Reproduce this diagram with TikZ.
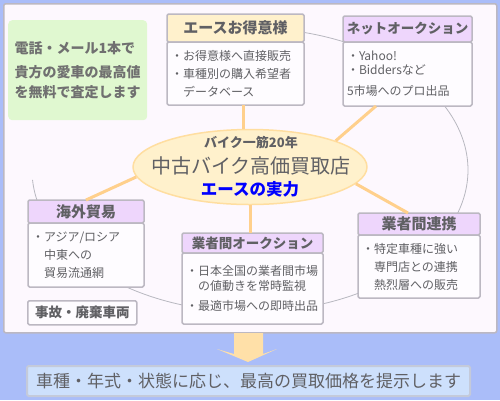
\documentclass[tikz,border=0pt]{standalone}
\usepackage{fontspec}
\setmainfont{Noto Sans CJK JP}
\usetikzlibrary{positioning,shapes.geometric}

\definecolor{skyback}{RGB}{170,189,249}
\definecolor{panelbg}{RGB}{253,248,254}
\definecolor{framegray}{RGB}{188,184,194}
\definecolor{inkgray}{RGB}{96,96,100}
\definecolor{memogray}{RGB}{112,112,112}
\definecolor{headpurple}{RGB}{238,214,252}
\definecolor{headyellow}{RGB}{255,241,204}
\definecolor{boxwhite}{RGB}{254,252,255}
\definecolor{memogreen}{RGB}{224,248,208}
\definecolor{linkorange}{RGB}{255,208,140}
\definecolor{ellipseedge}{RGB}{255,222,160}
\definecolor{orbitgray}{RGB}{184,184,192}
\definecolor{arrowtan}{RGB}{255,224,168}
\definecolor{barblue}{RGB}{205,224,252}
\definecolor{baredge}{RGB}{196,202,218}
\newcommand{\jsize}[2]{\fontsize{#1}{#2}\selectfont}

\begin{document}
\begin{tikzpicture}[x=1pt, y=-1pt, line join=round,
    frame/.style={draw=framegray, line width=1.5pt, rounded corners=1.5pt},
    head/.style={frame, fill=headpurple, text=inkgray, font=\jsize{15pt}{18pt}\bfseries,
                 outer sep=0pt, inner sep=0pt, anchor=north west},
    body/.style={frame, fill=boxwhite, text=inkgray, font=\jsize{12pt}{18pt},
                 align=left, outer sep=0pt, inner xsep=4pt, inner ysep=0pt, below=0pt of #1},
    link/.style={draw=linkorange, line width=3pt},
    orbit/.style={draw=orbitgray, line width=0.8pt}]
  \useasboundingbox (0,0) rectangle (500,400);
  \fill[skyback] (0,0) rectangle (500,400);

  % main panel
  \node[frame, fill=panelbg, rounded corners=2pt, minimum width=493pt, minimum height=329pt,
        anchor=north west, inner sep=0pt] (panel) at (3,3) {};

  % big ring behind the boxes
  \foreach \a/\b in {-78/-62, -27/19, 54/71, 106/127, 166/176}
    \draw[orbit] plot[domain=\a:\b, samples=30] ({250+218*cos(\x)}, {170+142*sin(\x)});

  % memo
  \node[fill=memogreen, rounded corners=4pt, text=memogray, font=\jsize{14pt}{20pt}\bfseries,
        align=left, anchor=north west, minimum width=139pt, minimum height=100pt,
        inner xsep=4pt] (memo) at (8,20)
       {電話・メール1本で\\[4pt]貴方の愛車の最高値\\を無料で査定します};

  % boxes
  \node[head, fill=headyellow, minimum width=137pt, minimum height=28pt] (tokui) at (167,14) {エースお得意様};
  \node[body=tokui, text width=129pt, minimum height=63pt] (tokuiB)
       {・お得意様へ直接販売\\・車種別の購入希望者\\　データベース};

  \node[head, font=\jsize{13.5pt}{16pt}\bfseries, minimum width=129pt, minimum height=26pt] (net) at (343,16) {ネットオークション};
  \node[body=net, text width=121pt, minimum height=64pt] (netB)
       {・Yahoo!\\[-4pt]・Biddersなど\\[3pt]5市場へのプロ出品};

  \node[head, minimum width=116pt, minimum height=23pt] (kaigai) at (28,200) {海外貿易};
  \node[body=kaigai, text width=108pt, minimum height=64pt] (kaigaiB)
       {・アジア/ロシア\\　中東への\\　貿易流通網};

  \node[head, font=\jsize{13.5pt}{16pt}\bfseries, minimum width=141pt, minimum height=20pt] (auction) at (182,233) {業者間オークション};
  \node[body=auction, text width=133pt, minimum height=71pt] (auctionB)
       {・日本全国の業者間市場\\[-3pt]　の値動きを常時監視\\[2pt]・最適市場への即時出品};

  \node[head, minimum width=122pt, minimum height=22pt] (renkei) at (358,213) {業者間連携};
  \node[body=renkei, text width=114pt, minimum height=63pt] (renkeiB)
       {・特定車種に強い\\　専門店との連携\\　熱烈層への販売};

  \node[frame, fill=boxwhite, text=inkgray, font=\jsize{13.5pt}{16pt}\bfseries, anchor=north west,
        minimum width=109pt, minimum height=24pt, inner sep=0pt] (jiko) at (27,300) {事故・廃棄車両};

  % centre
  \node[ellipse, draw=ellipseedge, fill=headyellow, line width=1.5pt, minimum width=234pt,
        minimum height=75pt, inner sep=0pt] (shop) at (250,167) {};
  \node[text=inkgray, font=\jsize{13pt}{15pt}\bfseries, inner sep=0pt] (since) at (251,143) {バイク一筋20年};
  \node[text=inkgray, font=\jsize{20pt}{24pt}, inner sep=0pt] (shopname) at (251,166) {中古バイク高価買取店};
  \node[text=blue, font=\jsize{16.5pt}{20pt}\bfseries, inner sep=0pt] (power) at (250,189) {エースの実力};

  \draw[link] (shop.100) -- (shop.100 |- tokuiB.south);
  \draw[link] (shop.17) -- ([xshift=33pt]netB.south west);
  \draw[link] (shop.185) -- (kaigai.north);
  \draw[link] (shop.351) -- ([xshift=50pt]renkei.north west);
  \draw[link] (shop.south) -- (shop.south |- auction.north);

  % result
  \node[draw=baredge, line width=2pt, fill=barblue, rounded corners=1.5pt, text=inkgray,
        font=\jsize{17pt}{20pt}, minimum width=443pt, minimum height=30pt, inner sep=0pt]
       (result) at (248.5,381) {車種・年式・状態に応じ、最高の買取価格を提示します};
  \fill[arrowtan] (234,333) -- (263,333) -- (263,354) -- (277,349) -- (248,362)
                  -- (217,349) -- (234,354) -- cycle;
\end{tikzpicture}
\end{document}
